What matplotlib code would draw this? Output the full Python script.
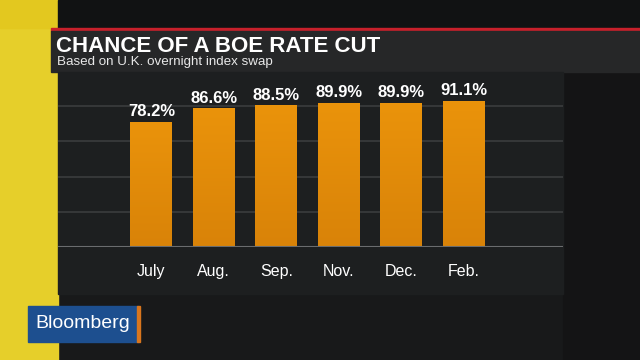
import matplotlib
matplotlib.use("Agg")
import matplotlib.pyplot as plt
import numpy as np
from matplotlib.patches import Rectangle
from matplotlib.colors import LinearSegmentedColormap

categories = ["July", "Aug.", "Sep.", "Nov.", "Dec.", "Feb."]
values = [78.2, 86.6, 88.5, 89.9, 89.9, 91.1]
labels = ["78.2%", "86.6%", "88.5%", "89.9%", "89.9%", "91.1%"]
title = "CHANCE OF A BOE RATE CUT"
subtitle = "Based on U.K. overnight index swap"

W, H = 640, 360
fig = plt.figure(figsize=(6.4, 3.6), dpi=100)
fig.patch.set_facecolor("#151617")

def px(x, y, w, h, color, z=0):
    fig.patches.append(Rectangle((x / W, 1 - (y + h) / H), w / W, h / H,
                                 transform=fig.transFigure, color=color, zorder=z))

# background pieces
px(0, 0, 640, 360, "#18191a", 0)
px(563, 72, 77, 288, "#141415", 0)
px(0, 0, 58, 360, "#e6cf2a", 1)
px(0, 0, 58, 28, "#e3c81f", 1)
px(58, 0, 582, 28, "#111213", 1)
px(51, 28, 589, 3, "#c8202b", 2)
px(51, 31, 589, 41, "#262728", 2)
px(58, 72, 505, 222, "#1d1f20", 2)
# Bloomberg badge
px(28, 306, 110, 36, "#1d4f8f", 3)
px(137, 306, 3, 36, "#d9761e", 3)
fig.text(83 / W, 1 - 324 / H, "Bloomberg", color="white", fontsize=14,
         family="Liberation Sans", ha="center", va="center", zorder=5)

fig.text(56 / W, 1 - 46 / H, title, color="white", fontsize=16, fontweight="bold",
         family="Liberation Sans", ha="left", va="center", zorder=5)
fig.text(57 / W, 1 - 62 / H, subtitle, color="#e8e8e8", fontsize=9.6,
         family="Liberation Sans", ha="left", va="center", zorder=5)

# chart axes: x 58..563, y 71..247
ax = fig.add_axes([58 / W, 1 - 247 / H, 505 / W, 176 / H], zorder=4)
ax.set_facecolor("none")
x = list(range(len(categories)))
bars = ax.bar(x, values, width=0.67, color="#e58f0c", zorder=3)
cmap = LinearSegmentedColormap.from_list("o", ["#d98308", "#ea930b"])
grad = np.linspace(0, 1, 64).reshape(-1, 1)
for b in bars:
    im = ax.imshow(grad, cmap=cmap, origin="lower", aspect="auto",
                   extent=(b.get_x(), b.get_x() + b.get_width(), 0, b.get_height()),
                   zorder=3.5)
    im.set_clip_path(b)
ax.set_ylim(0, 110)
ax.set_xlim(-1.495, 6.59)
ax.set_yticks([0, 22, 44, 66, 88])
ax.yaxis.grid(True, color="#3a3c3e", linewidth=1.2, zorder=1)
ax.axhline(0, color="#6a6c6e", linewidth=1.5, zorder=4)
ax.tick_params(axis="y", left=False, labelleft=False)
ax.tick_params(axis="x", bottom=False, colors="white", pad=9, labelsize=11.5)
ax.set_xticks(x)
ax.set_xticklabels(categories, family="Liberation Sans")
for s in ax.spines.values():
    s.set_visible(False)
for xi, v, lab in zip(x, values, labels):
    ax.annotate(lab, (xi, v), xytext=(0, 2), textcoords="offset points",
                ha="center", va="bottom", color="white", fontsize=12,
                fontweight="bold", family="Liberation Sans", zorder=5)

fig.savefig("out.png", dpi=100, facecolor=fig.get_facecolor())
